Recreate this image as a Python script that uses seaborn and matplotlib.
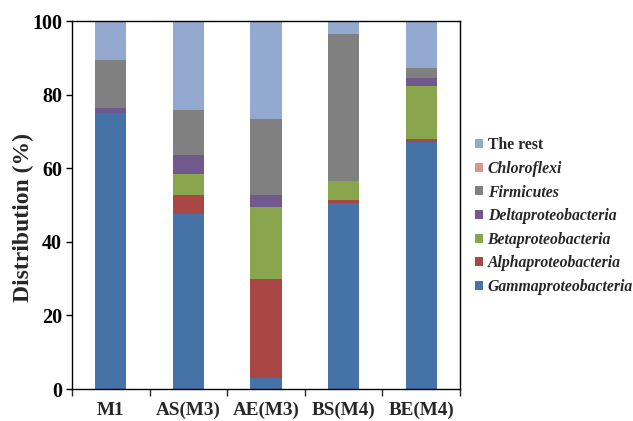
import numpy as np
import pandas as pd
import matplotlib
matplotlib.use("Agg")
import matplotlib.pyplot as plt
from matplotlib.patches import Patch
from matplotlib.ticker import FixedLocator
import seaborn as sns

samples = ["M1", "AS(M3)", "AE(M3)", "BS(M4)", "BE(M4)"]

gamma = [75.0, 47.6, 3.1, 50.5, 67.1]
alpha = [0.0, 5.2, 26.7, 0.8, 0.8]
beta = [0.0, 5.5, 19.6, 5.2, 14.4]
delta = [1.4, 5.3, 3.4, 0.0, 2.3]
firmicutes = [13.0, 12.2, 20.5, 39.9, 2.6]
chloroflexi = [0.0, 0.0, 0.2, 0.0, 0.0]
rest = [10.6, 24.2, 26.5, 3.6, 12.8]

series_names = ["Gammaproteobacteria", "Alphaproteobacteria", "Betaproteobacteria",
                "Deltaproteobacteria", "Firmicutes", "Chloroflexi", "The rest"]
series_values = [gamma, alpha, beta, delta, firmicutes, chloroflexi, rest]
series_colors = ["#4572A7", "#AA4643", "#89A54E", "#71588F", "#808080", "#DB9694", "#93A9CF"]

sns.set_theme(style="white")
plt.rcParams["font.family"] = ["Liberation Serif", "DejaVu Serif"]
plt.rcParams["font.weight"] = "bold"

fig = plt.figure(figsize=(6.33, 4.21), dpi=100)
ax = fig.add_axes([0.1137, 0.076, 0.613, 0.874])

df = pd.DataFrame({name: vals for name, vals in zip(series_names, series_values)})
df["sample"] = samples

bottom = np.zeros(len(samples))
for name, color in zip(series_names, series_colors):
    sns.barplot(data=df, x="sample", y=name, order=samples, color=color,
                width=0.4, bottom=bottom, errorbar=None, linewidth=0, ax=ax,
                saturation=1)
    bottom = bottom + df[name].to_numpy()

ax.set_xlim(-0.5, 4.5)
ax.set_ylim(0, 100)
ax.set_yticks([0, 20, 40, 60, 80, 100])
ax.set_xlabel("")
ax.set_ylabel("Distribution (%)", fontsize=17, fontweight="bold")
ax.yaxis.set_label_coords(-0.098, 0.467)

for s in ax.spines.values():
    s.set_visible(True)
    s.set_color("black")
    s.set_linewidth(1.0)

ax.tick_params(axis="y", which="major", direction="out", length=4, width=1,
               left=True, labelsize=14.5, pad=3, colors="black")
ax.tick_params(axis="x", which="major", length=0, labelsize=13.8, pad=9)
ax.xaxis.set_minor_locator(FixedLocator([-0.5, 0.5, 1.5, 2.5, 3.5, 4.5]))
ax.tick_params(axis="x", which="minor", direction="out", length=5, width=1, bottom=True)
for lab in ax.get_xticklabels() + ax.get_yticklabels():
    lab.set_fontweight("bold")

handles = []
labels = []
for name, color in zip(series_names[::-1], series_colors[::-1]):
    handles.append(Patch(facecolor=color, edgecolor="none"))
    labels.append(name)
leg = ax.legend(handles, labels, loc="center left", bbox_to_anchor=(1.0, 0.47),
                frameon=False, handlelength=0.51, handleheight=0.51,
                handletextpad=0.3, labelspacing=0.48, fontsize=11.3,
                borderaxespad=0.55)
for t in leg.get_texts():
    t.set_fontweight("bold")
    if t.get_text() != "The rest":
        t.set_fontstyle("italic")

fig.savefig("out.png", dpi=100)
